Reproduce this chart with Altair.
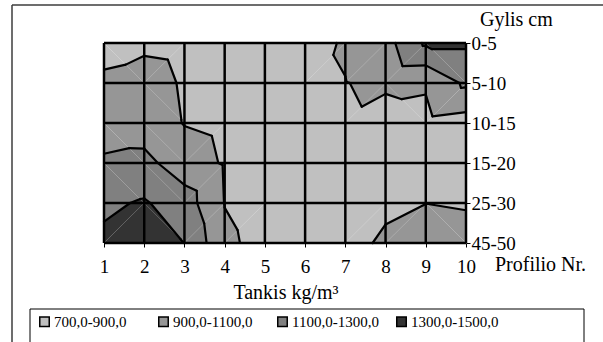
import json
import altair as alt
import pandas as pd

# ---- data -------------------------------------------------------------
PROFILES = [1, 2, 3, 4, 5, 6, 7, 8, 9, 10]
DEPTHS = ["0-5", "5-10", "10-15", "15-20", "25-30", "45-50"]
DEPTH_LABELS = ["0-5", "\u00a05-10", "\u00a010-15", "\u00a015-20", "25-30", "45-50"]

# soil density, kg/m3, per profile for each depth layer
D_0_5 = [800, 860, 840, 810, 790, 825, 920, 1027, 1330, 1330]
D_5_10 = [950, 985, 879, 830, 800, 853, 896, 932, 919, 1135]
D_10_15 = [1000, 995, 893, 860, 820, 800, 878, 814, 853, 813]
D_15_20 = [1130, 1159, 985, 884, 810, 790, 800, 830, 850, 840]
D_25_30 = [1265, 1319, 1195, 895, 820, 800, 820, 878, 899, 889]
D_45_50 = [1340, 1400, 1298, 938, 838, 820, 860, 919, 1000, 950]
GRID = [D_0_5, D_5_10, D_10_15, D_15_20, D_25_30, D_45_50]

LEVELS = [700, 900, 1100, 1300, 1500]
BANDS = ["700,0-900,0", "900,0-1100,0", "1100,0-1300,0", "1300,0-1500,0"]
BAND_COLORS = ["#c0c0c0", "#969696", "#808080", "#333333"]

# diagonal used to split each cell into two triangles
DIAG = [
    ["\\", "/", "/", "/", "/", "/", "/", "/", "\\"],
    ["\\", "\\", "/", "/", "/", "/", "/", "\\", "/"],
    ["\\", "\\", "/", "/", "/", "/", "/", "/", "/"],
    ["\\", "\\", "/", "/", "/", "/", "/", "\\", "\\"],
    ["/", "\\", "/", "/", "/", "/", "/", "/", "\\"],
]


# ---- contour geometry (linear interpolation on triangles) -------------
def band_of(v):
    for i in range(len(BANDS)):
        if LEVELS[i] <= v < LEVELS[i + 1]:
            return i
    return len(BANDS) - 1


def clip(poly, level, above):
    out = []
    n = len(poly)
    for i in range(n):
        p, q = poly[i], poly[(i + 1) % n]
        pin = p[2] >= level if above else p[2] <= level
        qin = q[2] >= level if above else q[2] <= level
        if pin:
            out.append(p)
        if pin != qin:
            t = (level - p[2]) / (q[2] - p[2])
            out.append((p[0] + t * (q[0] - p[0]), p[1] + t * (q[1] - p[1]), level))
    return out


def area(poly):
    s = 0.0
    for i in range(len(poly)):
        x1, y1 = poly[i][0], poly[i][1]
        x2, y2 = poly[(i + 1) % len(poly)][0], poly[(i + 1) % len(poly)][1]
        s += x1 * y2 - x2 * y1
    return abs(s) / 2


fill_rows, seg_rows = [], []
pid = 0
for r in range(len(GRID) - 1):
    for c in range(len(PROFILES) - 1):
        tl = (PROFILES[c], r, GRID[r][c])
        tr = (PROFILES[c + 1], r, GRID[r][c + 1])
        bl = (PROFILES[c], r + 1, GRID[r + 1][c])
        br = (PROFILES[c + 1], r + 1, GRID[r + 1][c + 1])
        if DIAG[r][c] == "/":
            tris = [(tl, tr, bl), (tr, br, bl)]
        else:
            tris = [(tl, tr, br), (tl, br, bl)]
        corners = [tl, tr, br, bl]
        bands = {band_of(p[2]) for p in corners}
        if len(bands) == 1:
            b = bands.pop()
            for k, p in enumerate(corners):
                fill_rows.append({"pid": pid, "k": k, "x": p[0], "y": p[1], "band": BANDS[b]})
            pid += 1
        else:
            for tri in tris:
                for b in range(len(BANDS)):
                    poly = clip(list(tri), LEVELS[b], True)
                    if len(poly) >= 3:
                        poly = clip(poly, LEVELS[b + 1], False)
                    if len(poly) < 3 or area(poly) < 1e-9:
                        continue
                    for k, p in enumerate(poly):
                        fill_rows.append({"pid": pid, "k": k, "x": p[0], "y": p[1], "band": BANDS[b]})
                    pid += 1
        for tri in tris:
            for lev in LEVELS[1:-1]:
                pts = []
                for i in range(3):
                    p, q = tri[i], tri[(i + 1) % 3]
                    if (p[2] - lev) * (q[2] - lev) < 0:
                        t = (lev - p[2]) / (q[2] - p[2])
                        pts.append((p[0] + t * (q[0] - p[0]), p[1] + t * (q[1] - p[1])))
                if len(pts) == 2:
                    seg_rows.append({"x": pts[0][0], "y": pts[0][1], "x2": pts[1][0], "y2": pts[1][1]})

fill_df = pd.DataFrame(fill_rows)
seg_df = pd.DataFrame(seg_rows)

# ---- chart ------------------------------------------------------------
FONT = "Liberation Serif"
W, H = 362, 200
LEFT, TOP = 104, 43

xscale = alt.Scale(domain=[1, 10], nice=False, zero=False)
yscale = alt.Scale(domain=[0, 5], nice=False, zero=False, reverse=True)

label_expr = json.dumps(DEPTH_LABELS) + "[datum.value]"

xaxis = alt.Axis(
    values=PROFILES, title=None, grid=False, domain=False, tickColor="black",
    tickSize=4, tickWidth=1, labelFont=FONT, labelFontSize=19, labelColor="black",
    labelPadding=10, labelFlush=False)
yaxis = alt.Axis(
    orient="right", values=list(range(len(DEPTHS))), labelExpr=label_expr, title=None,
    grid=False, domain=False, tickColor="black", tickSize=4, tickWidth=1,
    labelFont=FONT, labelFontSize=19, labelColor="black", labelPadding=1,
    labelFlush=False, labelBaseline="middle")

X = alt.X("x:Q", scale=xscale, axis=xaxis)
Y = alt.Y("y:Q", scale=yscale, axis=yaxis)

fills = alt.Chart(fill_df).mark_line(filled=True, strokeWidth=0).encode(
    x=X,
    y=Y,
    color=alt.Color("band:N", scale=alt.Scale(domain=BANDS, range=BAND_COLORS),
                    legend=alt.Legend(
                        orient="none", legendX=-67, legendY=271, direction="horizontal",
                        columns=4, gridAlign="all", title=None, symbolType="square",
                        symbolSize=90, symbolStrokeColor="black", symbolStrokeWidth=1.5,
                        labelFont=FONT, labelFontSize=15, labelColor="black",
                        columnPadding=13, padding=0, labelOffset=2)),
    detail="pid:N",
    order="k:Q",
)

vgrid = alt.Chart(pd.DataFrame({"x": PROFILES})).mark_rule(color="black", strokeWidth=2.5).encode(x=X)
hgrid = alt.Chart(pd.DataFrame({"y": list(range(len(DEPTHS)))})).mark_rule(color="black", strokeWidth=2.5).encode(y=Y)

contours = alt.Chart(seg_df).mark_rule(color="black", strokeWidth=2.2, strokeCap="round").encode(
    x=X, y=Y, x2="x2:Q", y2="y2:Q",
)

one = pd.DataFrame({"a": [0]})
frame_top = alt.Chart(one).mark_rule(color="#3c3c3c", strokeWidth=1.5).encode(
    x=alt.value(12 - LEFT), x2=alt.value(620 - LEFT), y=alt.value(5 - TOP))
frame_left = alt.Chart(one).mark_rule(color="#3c3c3c", strokeWidth=1.5).encode(
    x=alt.value(12 - LEFT), y=alt.value(5 - TOP), y2=alt.value(360 - TOP))
legend_box = alt.Chart(one).mark_rect(filled=False, stroke="black", strokeWidth=1).encode(
    x=alt.value(30 - LEFT), x2=alt.value(584 - LEFT), y=alt.value(309 - TOP), y2=alt.value(350 - TOP))


def label(text, x, y, align="left"):
    return alt.Chart(one).mark_text(font=FONT, fontSize=20, color="black", align=align,
                                    baseline="middle").encode(
        x=alt.value(x - LEFT), y=alt.value(y - TOP), text=alt.value(text))


t_depth = label("Gylis cm", 480, 20)
t_prof = label("Profilio Nr.", 495, 265)
t_dens = label("Tankis kg/m\u00b3", 286, 293, align="center")

chart = alt.layer(
    fills, vgrid, hgrid, contours, frame_top, frame_left, legend_box, t_depth, t_prof, t_dens
).properties(
    width=W, height=H,
    autosize=alt.AutoSizeParams(type="none"),
    padding={"left": LEFT, "top": TOP, "right": 603 - LEFT - W, "bottom": 342 - TOP - H},
    background="white",
).configure_view(strokeWidth=0)

chart.save("out.html", embed_options={"renderer": "svg", "actions": False})
